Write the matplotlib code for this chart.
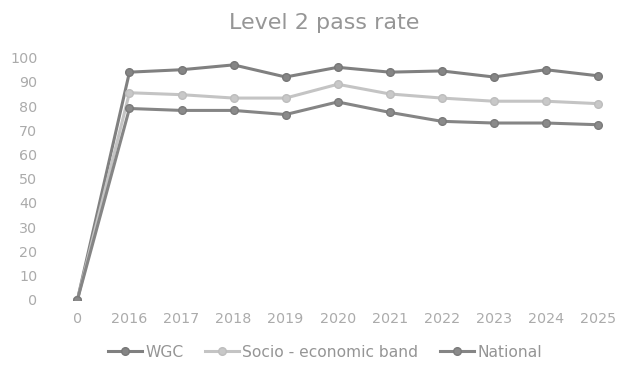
import matplotlib
matplotlib.use("Agg")
import matplotlib.pyplot as plt

plt.rcParams['font.family'] = ['DejaVu Sans']

years = ["0", "2016", "2017", "2018", "2019", "2020", "2021", "2022", "2023", "2024", "2025"]
wgc = [0, 94, 95, 97, 92, 96, 94, 94.5, 92, 95, 92.5]
socio = [0, 85.5, 84.7, 83.3, 83.3, 89, 85, 83.3, 82, 82, 81]
national = [0, 79, 78.2, 78.2, 76.5, 81.7, 77.4, 73.7, 73, 73, 72.3]

fig = plt.figure(figsize=(6.19, 3.67), dpi=100)
ax = fig.add_axes([0.083, 0.183, 0.925, 0.66])

x = range(len(years))
ax.plot(x, wgc, color='#808080', lw=2.2, marker='o', ms=5.5, mfc='#858585', mec='#777777', label='WGC')
ax.plot(x, socio, color='#c4c4c4', lw=2.2, marker='o', ms=5.5, mfc='#c8c8c8', mec='#bdbdbd', label='Socio - economic band')
ax.plot(x, national, color='#858585', lw=2.2, marker='o', ms=5.5, mfc='#8a8a8a', mec='#7a7a7a', label='National')

ax.set_xlim(-0.5, 10.5)
ax.set_ylim(0, 100)
ax.set_yticks(range(0, 101, 10))
ax.set_xticks(list(x))
ax.set_xticklabels(years)
for s in ax.spines.values():
    s.set_visible(False)
ax.tick_params(length=0, colors='#ababab', labelsize=10.3)
ax.tick_params(axis='y', pad=10)
ax.tick_params(axis='x', pad=9)

fig.text(0.523, 0.938, "Level 2 pass rate", ha='center', va='center', fontsize=16, color='#969696')

leg = fig.legend(loc='center', bbox_to_anchor=(0.525, 0.04), ncol=3, frameon=False,
                 fontsize=11.2, handlelength=2.2, columnspacing=1.4, handletextpad=0.2)
for t in leg.get_texts():
    t.set_color('#959595')

fig.savefig("out.png", dpi=100)
